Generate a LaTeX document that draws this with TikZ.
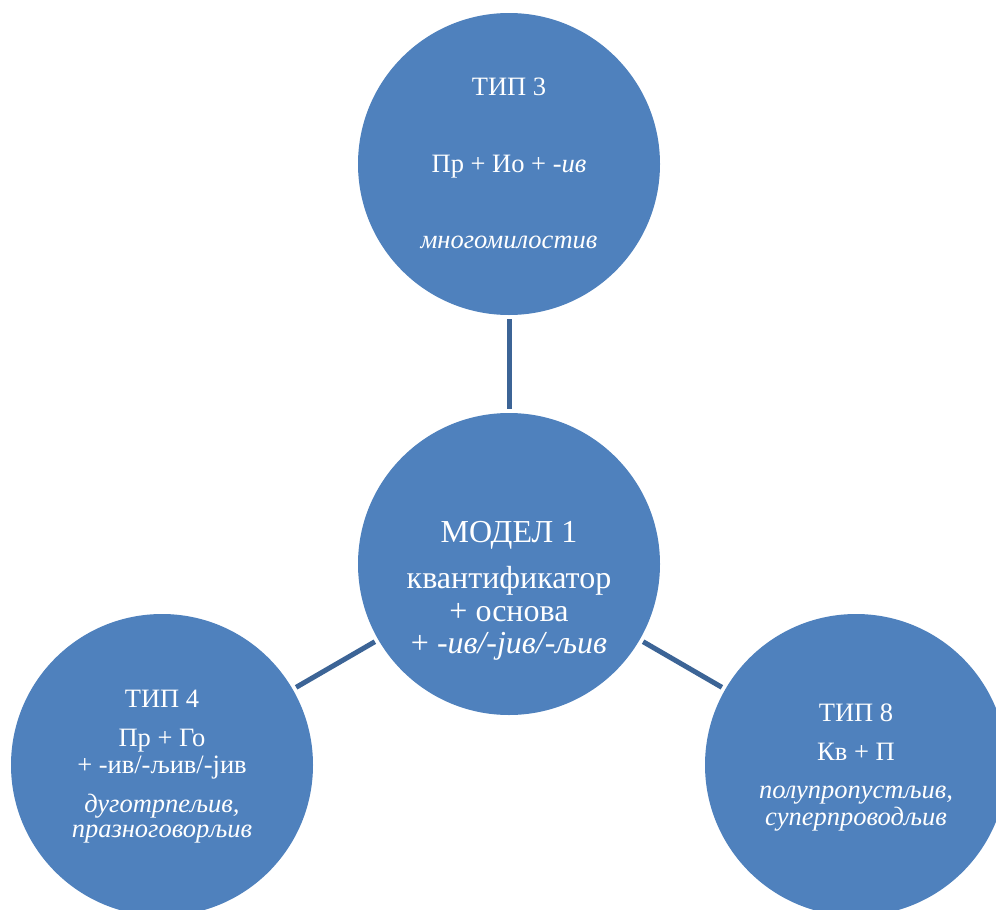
\documentclass[tikz,border=0pt]{standalone}
\usepackage{fontspec}
\setmainfont{Liberation Serif}
\definecolor{circfill}{HTML}{4F81BD}
\definecolor{linkcol}{HTML}{3C6496}
\begin{document}
\begin{tikzpicture}[x=1pt,y=-1pt,
  bubble/.style={circle,fill=circfill,draw=none,minimum size=302pt,inner sep=0pt,outer sep=0pt},
  link/.style={draw=linkcol,line width=5pt,shorten <=4pt,shorten >=4pt},
  txt/.style={text=white,anchor=base,inner sep=0pt,font=\fontsize{26.5}{30}\selectfont},
  bigtxt/.style={text=white,anchor=base,inner sep=0pt,font=\fontsize{32}{36}\selectfont}]
\useasboundingbox (0,0) rectangle (996,910);
\begin{scope}
\clip (0,0) rectangle (996,910);
\node[bubble] (t3) at (509,164) {};
\node[bubble] (m1) at (509,564) {};
\node[bubble] (t4) at (162,765) {};
\node[bubble] (t8) at (856,765) {};
\end{scope}
\draw[link] (t3) -- (m1);
\draw[link] (m1) -- (t4);
\draw[link] (m1) -- (t8);
% top
\node[txt] (t3a) at (509,95) {ТИП 3};
\node[txt] (t3b) at (509,172) {Пр + Ио + -\textit{ив}};
\node[txt] (t3c) at (509,248) {\textit{многомилостив}};
% centre
\node[bigtxt] (m1a) at (509,542) {МОДЕЛ 1};
\node[bigtxt] (m1b) at (509,588) {квантификатор};
\node[bigtxt] (m1c) at (509,621) {+ основа};
\node[bigtxt] (m1d) at (509,653) {+ \textit{-ив/-јив/-љив}};
% left
\node[txt] (t4a) at (162,707) {ТИП 4};
\node[txt] (t4b) at (162,746) {Пр + Го};
\node[txt] (t4c) at (162,773) {+ -ив/-љив/-јив};
\node[txt] (t4d) at (162,812) {\textit{дуготрпељив,}};
\node[txt] (t4e) at (162,837) {\textit{празноговорљив}};
% right
\node[txt] (t8a) at (856,721) {ТИП 8};
\node[txt] (t8b) at (856,760) {Кв + П};
\node[txt] (t8c) at (856,798) {\textit{полупропустљив,}};
\node[txt] (t8d) at (856,825) {\textit{суперпроводљив}};
\end{tikzpicture}
\end{document}
